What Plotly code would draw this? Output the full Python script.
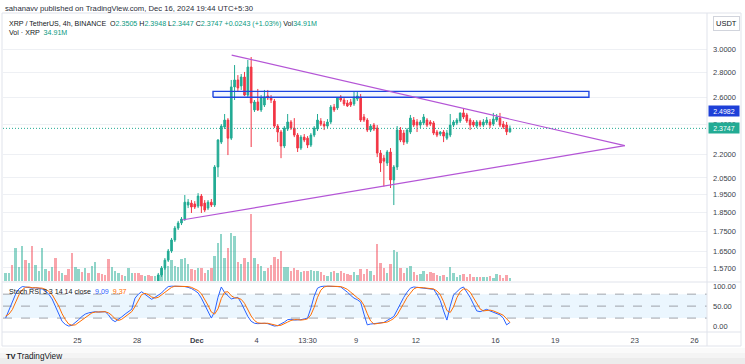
import math
import pandas as pd
import plotly.graph_objects as go

# ---------------- data (4h bars, IST) ----------------
bar_start = "2024-11-21 09:30"
n_bars = 153

opens = [1.12, 1.15, 1.18, 1.16, 1.26, 1.29, 1.40, 1.36, 1.39, 1.31,
         1.34, 1.36, 1.45, 1.47, 1.45, 1.48, 1.42, 1.40, 1.42, 1.41,
         1.38, 1.30, 1.34, 1.37, 1.35, 1.39, 1.38, 1.42, 1.46, 1.45,
         1.43, 1.42, 1.36, 1.39, 1.41, 1.42, 1.41, 1.42, 1.45, 1.46,
         1.45, 1.44, 1.43, 1.44, 1.43, 1.42,
         1.49, 1.538, 1.570, 1.607, 1.651, 1.706, 1.767, 1.794, 1.815, 1.892,
         1.903, 1.898, 1.886, 1.943, 1.903, 1.875, 1.908, 1.892, 2.118, 2.280,
         2.384, 2.434, 2.307, 2.685, 2.741, 2.693, 2.765, 2.621, 2.848, 2.508,
         2.568, 2.508, 2.545, 2.614, 2.599, 2.575, 2.391, 2.349, 2.254, 2.370,
         2.420, 2.377, 2.328, 2.240, 2.314, 2.307, 2.260, 2.328, 2.370, 2.427,
         2.405, 2.391, 2.420, 2.530, 2.523, 2.606, 2.583, 2.560, 2.568, 2.553,
         2.591, 2.606, 2.456, 2.434, 2.363, 2.398, 2.377, 2.207, 2.174, 2.143,
         2.214, 2.038, 2.118, 2.363, 2.342, 2.280, 2.349, 2.434, 2.420, 2.398,
         2.413, 2.434, 2.420, 2.413, 2.349, 2.335, 2.349, 2.307, 2.328, 2.398,
         2.413, 2.427, 2.486, 2.471, 2.434, 2.420, 2.391, 2.420, 2.398, 2.413,
         2.420, 2.405, 2.434, 2.448, 2.405, 2.398, 2.3505]
highs = [1.16, 1.19, 1.19, 1.28, 1.31, 1.42, 1.43, 1.41, 1.42, 1.35,
         1.37, 1.47, 1.49, 1.48, 1.49, 1.49, 1.44, 1.43, 1.43, 1.42,
         1.39, 1.35, 1.38, 1.38, 1.40, 1.40, 1.43, 1.47, 1.47, 1.46,
         1.44, 1.43, 1.40, 1.42, 1.43, 1.43, 1.43, 1.46, 1.47, 1.47,
         1.46, 1.45, 1.45, 1.45, 1.44, 1.49,
         1.547, 1.579, 1.617, 1.661, 1.716, 1.778, 1.805, 1.826, 1.949, 1.926,
         1.920, 1.914, 1.960, 1.955, 1.920, 1.920, 1.926, 2.130, 2.300, 2.405,
         2.478, 2.448, 2.741, 2.865, 2.781, 2.790, 2.807, 2.908, 2.934, 2.583,
         2.669, 2.621, 2.661, 2.661, 2.621, 2.591, 2.405, 2.363, 2.391, 2.478,
         2.434, 2.448, 2.342, 2.328, 2.335, 2.321, 2.342, 2.391, 2.478, 2.448,
         2.427, 2.441, 2.545, 2.553, 2.606, 2.621, 2.599, 2.583, 2.591, 2.645,
         2.645, 2.629, 2.478, 2.448, 2.405, 2.413, 2.398, 2.227, 2.194, 2.227,
         2.240, 2.130, 2.391, 2.384, 2.363, 2.377, 2.471, 2.456, 2.441, 2.434,
         2.478, 2.448, 2.434, 2.427, 2.363, 2.356, 2.363, 2.363, 2.478, 2.434,
         2.448, 2.486, 2.515, 2.486, 2.448, 2.434, 2.434, 2.434, 2.441, 2.456,
         2.441, 2.486, 2.478, 2.486, 2.427, 2.420, 2.3948]
lows = [1.11, 1.14, 1.15, 1.15, 1.24, 1.28, 1.34, 1.35, 1.29, 1.29,
        1.33, 1.35, 1.43, 1.43, 1.44, 1.40, 1.39, 1.39, 1.40, 1.37,
        1.28, 1.29, 1.33, 1.34, 1.34, 1.37, 1.37, 1.41, 1.44, 1.42,
        1.41, 1.35, 1.35, 1.38, 1.40, 1.40, 1.40, 1.41, 1.44, 1.44,
        1.43, 1.42, 1.42, 1.42, 1.41, 1.41,
        1.485, 1.529, 1.561, 1.598, 1.642, 1.696, 1.757, 1.783, 1.805, 1.875,
        1.848, 1.870, 1.875, 1.848, 1.853, 1.864, 1.881, 1.881, 2.056, 2.267,
        2.370, 2.194, 2.294, 2.583, 2.645, 2.661, 2.614, 2.606, 2.247, 2.493,
        2.500, 2.493, 2.530, 2.583, 2.560, 2.377, 2.280, 2.174, 2.240, 2.356,
        2.363, 2.314, 2.214, 2.227, 2.280, 2.240, 2.247, 2.314, 2.356, 2.391,
        2.363, 2.377, 2.405, 2.493, 2.508, 2.568, 2.538, 2.530, 2.530, 2.538,
        2.575, 2.420, 2.420, 2.349, 2.349, 2.356, 2.181, 2.087, 1.999, 2.124,
        1.990, 1.892, 2.099, 2.280, 2.260, 2.267, 2.335, 2.384, 2.349, 2.377,
        2.398, 2.384, 2.391, 2.328, 2.314, 2.321, 2.280, 2.294, 2.314, 2.384,
        2.398, 2.413, 2.441, 2.413, 2.363, 2.384, 2.377, 2.384, 2.384, 2.398,
        2.377, 2.391, 2.420, 2.384, 2.370, 2.328, 2.3447]
closes = [1.15, 1.18, 1.16, 1.26, 1.29, 1.40, 1.36, 1.39, 1.31, 1.34,
          1.36, 1.45, 1.47, 1.45, 1.48, 1.42, 1.40, 1.42, 1.41, 1.38,
          1.30, 1.34, 1.37, 1.35, 1.39, 1.38, 1.42, 1.46, 1.45, 1.43,
          1.42, 1.36, 1.39, 1.41, 1.42, 1.41, 1.42, 1.45, 1.46, 1.45,
          1.44, 1.43, 1.44, 1.43, 1.42, 1.49,
          1.538, 1.570, 1.607, 1.651, 1.706, 1.767, 1.794, 1.815, 1.908, 1.908,
          1.881, 1.881, 1.943, 1.886, 1.864, 1.908, 1.892, 2.118, 2.294, 2.391,
          2.434, 2.307, 2.685, 2.741, 2.677, 2.765, 2.621, 2.848, 2.560, 2.568,
          2.508, 2.599, 2.606, 2.599, 2.583, 2.391, 2.349, 2.254, 2.377, 2.420,
          2.377, 2.328, 2.240, 2.314, 2.294, 2.260, 2.328, 2.377, 2.434, 2.405,
          2.391, 2.420, 2.530, 2.508, 2.599, 2.583, 2.553, 2.538, 2.545, 2.606,
          2.614, 2.434, 2.434, 2.363, 2.391, 2.370, 2.207, 2.143, 2.155, 2.214,
          2.038, 2.118, 2.363, 2.294, 2.280, 2.363, 2.448, 2.398, 2.398, 2.420,
          2.456, 2.398, 2.405, 2.342, 2.328, 2.349, 2.321, 2.342, 2.398, 2.420,
          2.434, 2.486, 2.456, 2.427, 2.398, 2.398, 2.420, 2.398, 2.420, 2.434,
          2.398, 2.441, 2.456, 2.398, 2.384, 2.3504, 2.3747]

volumes_m = [92, 92, 184, 380, 161, 403, 242, 207, 403, 184,
             115, 380, 138, 115, 161, 265, 115, 92, 69, 138,
             322, 161, 138, 104, 150, 92, 173, 219, 92, 81,
             69, 253, 161, 115, 92, 69, 58, 150, 92, 92,
             92, 69, 58, 69, 58, 58,
             69, 138, 184, 173, 242, 173, 161, 253, 265, 196,
             138, 127, 150, 150, 92, 127, 150, 288, 437, 541,
             265, 380, 552, 518, 219, 196, 265, 219, 771,
             265, 196, 173, 115, 150, 184, 276, 253, 345, 161,
             161, 115, 150, 127, 104, 115, 115, 127, 115, 115,
             104, 69, 58, 104, 115, 92, 115,
             92,
             81, 69, 104, 69, 138, 81, 138, 115, 69, 426,
             207, 150, 92, 196, 357, 334, 150, 92, 150, 173,
             104, 69, 81, 115, 81, 104, 92, 69, 58, 69,
             46, 161, 92, 46, 69, 81, 46, 81, 46, 46,
             46, 46, 46, 58, 35, 81, 69, 35, 69, 34.91]

stoch_k = [20, 40, 62, 80, 93, 99, 98, 96, 95, 96,
           95, 93, 88, 80, 68, 50, 32, 12, 4, 0,
           2, 8, 16, 24, 30, 33, 35, 36, 35, 36,
           36, 28, 16, 11, 16, 23, 30, 35, 42, 70,
           80, 86, 80, 72, 67, 72, 78, 83, 92, 99,
           100, 100, 100, 100, 99, 97, 94, 89, 83, 70,
           52, 34, 20, 36, 72, 98, 84, 76, 68, 70,
           72, 58, 40, 24, 12, 7, 6, 7, 7, 6,
           3, 0, 1, 5, 10, 16, 17, 15, 15, 16,
           18, 20, 45, 75, 95, 99, 100, 100, 100, 99,
           99,
           98, 92, 85, 77, 70, 66, 60, 30, 3, 5,
           6, 7, 7, 9, 14, 19, 24, 40, 58, 72,
           85, 95, 98, 97, 95, 95, 94, 93, 92, 80,
           64, 38, 15, 50, 78, 86, 94, 98, 85, 72,
           55, 38, 36, 40, 42, 38, 34, 32, 28, 20,
           3, 9.09]
stoch_d = [25, 30, 41, 61, 78, 91, 97, 98, 96, 96,
           95, 95, 92, 87, 79, 66, 50, 31, 16, 5,
           2, 3, 9, 16, 23, 29, 33, 35, 35, 36,
           36, 33, 27, 18, 14, 17, 23, 29, 36, 49,
           64, 79, 82, 79, 73, 70, 72, 78, 84, 91,
           97, 100, 100, 100, 100, 99, 97, 93, 89, 81,
           68, 52, 35, 30, 43, 69, 85, 86, 76, 71,
           70, 67, 57, 41, 25, 14, 8, 7, 7, 7,
           5, 3, 1, 2, 5, 10, 14, 16, 16, 15,
           16, 18, 28, 47, 72, 90, 98, 100, 100, 100,
           100,
           99, 96, 92, 85, 77, 71, 65, 52, 31, 13,
           5, 6, 7, 8, 10, 14, 19, 28, 41, 57,
           72, 84, 93, 97, 97, 96, 95, 94, 93, 88,
           79, 61, 39, 34, 48, 71, 86, 93, 92, 85,
           71, 55, 43, 38, 39, 40, 38, 35, 31, 27,
           17, 9.37]

# drawings
upper_line_t = ["2024-12-02 18:00", "2024-12-22 12:00"]
upper_line_p = [2.951, 2.256]
lower_line_t = ["2024-11-30 06:00", "2024-12-22 12:00"]
lower_line_p = [1.810, 2.256]
rect_t = ["2024-12-01 19:30", "2024-12-20 16:45"]
rect_p = [2.604, 2.650]
marker_level = 2.4982

# axis ticks
price_ticks = [1.57, 1.65, 1.75, 1.85, 1.95, 2.05, 2.2, 2.4, 2.6, 2.8, 3.0]
stoch_ticks = [0, 50, 100]
time_tickvals = ["2024-11-25", "2024-11-28", "2024-12-01", "2024-12-04", "2024-12-06 13:30",
                 "2024-12-09", "2024-12-12", "2024-12-16", "2024-12-19", "2024-12-23", "2024-12-26"]
time_ticktext = ["25", "28", "<b>Dec</b>", "4", "13:30", "9", "12", "16", "19", "23", "26"]

# ---------------- figure ----------------
W, H = 745, 364
def px(x): return x / W
def py(y): return 1 - y / H

times = pd.date_range(bar_start, periods=n_bars, freq="4h")
x_range = ["2024-11-21 06:18", "2024-12-26 15:06"]
UP, DN = "#22ab94", "#f23645"
UP_V, DN_V = "rgba(34,171,148,0.5)", "rgba(242,54,69,0.45)"
TXT = "#131722"
AX = "#3a3e4a"
FONT = "Liberation Sans, Arial, sans-serif"

vol_colors = [UP_V if c >= o else DN_V for o, c in zip(opens, closes)]

fig = go.Figure()
fig.add_trace(go.Bar(x=times, y=volumes_m, marker=dict(color=vol_colors, line=dict(width=0)),
                     width=4 * 3600 * 1000 * 0.72, xaxis="x", yaxis="y",
                     hoverinfo="skip", showlegend=False))
fig.add_trace(go.Candlestick(x=times, open=opens, high=highs, low=lows, close=closes,
                             xaxis="x", yaxis="y2", whiskerwidth=0,
                             increasing=dict(line=dict(color=UP, width=1), fillcolor=UP),
                             decreasing=dict(line=dict(color=DN, width=1), fillcolor=DN),
                             hoverinfo="skip", showlegend=False))
# rectangle
fig.add_trace(go.Scatter(x=[rect_t[0], rect_t[1], rect_t[1], rect_t[0], rect_t[0]],
                         y=[rect_p[0], rect_p[0], rect_p[1], rect_p[1], rect_p[0]],
                         mode="lines", fill="toself", fillcolor="rgba(41,98,255,0.06)",
                         line=dict(color="#1f46e0", width=1.4), xaxis="x", yaxis="y2",
                         hoverinfo="skip", showlegend=False))
# triangle
for tt, pp in [(upper_line_t, upper_line_p), (lower_line_t, lower_line_p)]:
    fig.add_trace(go.Scatter(x=tt, y=pp, mode="lines", line=dict(color="#b455d6", width=1.2),
                             xaxis="x", yaxis="y2", hoverinfo="skip", showlegend=False))
# current price line
last = closes[-1]
fig.add_trace(go.Scatter(x=x_range, y=[last, last], mode="lines",
                         line=dict(color=UP, width=1, dash="1px,2px"), xaxis="x", yaxis="y2",
                         hoverinfo="skip", showlegend=False))
# stoch rsi
fig.add_trace(go.Scatter(x=times, y=stoch_k, mode="lines", line=dict(color="#2962ff", width=1),
                         xaxis="x", yaxis="y3", hoverinfo="skip", showlegend=False))
fig.add_trace(go.Scatter(x=times, y=stoch_d, mode="lines", line=dict(color="#ff6d00", width=1),
                         xaxis="x", yaxis="y3", hoverinfo="skip", showlegend=False))

price_dom = [py(281), py(14)]
stoch_dom = [py(331), py(282.5)]

fig.update_layout(
    width=W, height=H, autosize=False,
    margin=dict(l=0, r=0, t=0, b=0, pad=0),
    paper_bgcolor="white", plot_bgcolor="rgba(0,0,0,0)",
    font=dict(family=FONT, size=7.5, color=TXT),
    showlegend=False, bargap=0,
    xaxis=dict(domain=[px(3), px(707)], range=x_range, type="date", anchor="y3",
               showgrid=False, zeroline=False, showline=False, ticks="",
               tickvals=time_tickvals, ticktext=time_ticktext,
               tickfont=dict(size=7.5, color=AX), ticklabelstandoff=3,
               rangeslider=dict(visible=False), fixedrange=True),
    yaxis=dict(domain=price_dom, range=[0, 3070], visible=False, fixedrange=True),
    yaxis2=dict(overlaying="y", anchor="x", side="right", type="log",
                range=[math.log10(1.5106), math.log10(3.3329)],
                tickvals=price_ticks, ticktext=[f"{v:.4f}" for v in price_ticks],
                showgrid=True, gridcolor="#eef0f4", gridwidth=1, zeroline=False,
                showline=False, ticks="", tickfont=dict(size=7.5, color=AX),
                ticklabelstandoff=5, automargin=False, fixedrange=True),
    yaxis3=dict(domain=stoch_dom, anchor="x", side="right", range=[-12.4, 109.2],
                tickvals=stoch_ticks, ticktext=[f"{v:.2f}" for v in stoch_ticks],
                showgrid=False, zeroline=False, showline=False, ticks="",
                tickfont=dict(size=7.5, color=AX), ticklabelstandoff=5,
                automargin=False, fixedrange=True),
)

shapes = []
LINE = "#e0e3eb"
# stoch band and levels
shapes.append(dict(type="rect", xref="paper", yref="y3", x0=px(3), x1=px(707), y0=20, y1=80,
                   fillcolor="rgba(33,150,243,0.09)", line=dict(width=0), layer="below"))
for lv in [20, 50, 80]:
    shapes.append(dict(type="line", xref="paper", yref="y3", x0=px(3), x1=px(707), y0=lv, y1=lv,
                       line=dict(color="#8a8d96", width=0.8, dash="dash"), layer="below"))
# frame and separators
shapes.append(dict(type="rect", xref="paper", yref="paper", x0=px(2), x1=px(741), y0=py(346), y1=py(13),
                   line=dict(color=LINE, width=1), fillcolor="rgba(0,0,0,0)", layer="above"))
shapes.append(dict(type="line", xref="paper", yref="paper", x0=px(707), x1=px(707), y0=py(346), y1=py(13),
                   line=dict(color=LINE, width=1), layer="above"))
for yy in [282, 332]:
    shapes.append(dict(type="line", xref="paper", yref="paper", x0=px(2), x1=px(741), y0=py(yy), y1=py(yy),
                       line=dict(color=LINE, width=1), layer="above"))
# bottom shading
for y0, y1, col in [(348, 353, "#fafafa"), (353, 358, "#f4f4f4"), (358, 364, "#ececec")]:
    shapes.append(dict(type="rect", xref="paper", yref="paper", x0=0, x1=1, y0=py(y1), y1=py(y0),
                       fillcolor=col, line=dict(width=0), layer="below"))
fig.update_layout(shapes=shapes)

G = "#089981"
def c(v, col=G):
    return f'<span style="color:{col}">{v}</span>'

chg = closes[-1] - closes[-2]
pct = chg / closes[-2] * 100
line2 = ("XRP / TetherUS, 4h, BINANCE  O" + c(f"{opens[-1]:.4f}") + " H" + c(f"{highs[-1]:.4f}") +
         " L" + c(f"{lows[-1]:.4f}") + " C" + c(f"{closes[-1]:.4f}") + " " +
         c(f"{chg:+.4f} ({pct:+.2f}%)") + " Vol" + c(f"{volumes_m[-1]:.2f}M"))
line3 = "Vol · XRP  " + c(f"{volumes_m[-1]:.2f}M")
stoch_txt = ("Stoch RSI 3 3 14 14 close  " + c(f"{stoch_k[-1]:.2f}", "#2962ff") + "  " +
             c(f"{stoch_d[-1]:.2f}", "#ff6d00"))

ann = []
def text(x, y, t, size=7, color=TXT, **kw):
    d = dict(xref="paper", yref="paper", x=px(x), y=py(y), text=t, showarrow=False,
             xanchor="left", yanchor="middle", font=dict(size=size, color=color, family=FONT))
    d.update(kw)
    ann.append(d)

text(3, 8, "sahanavv published on TradingView.com, Dec 16, 2024 19:44 UTC+5:30", size=7.7, color="#2a2e39")
text(7, 24, line2, size=7.1)
text(7, 33, line3, size=7.1)
text(7, 292, stoch_txt, size=7.1)
text(4, 356, "<b>TV</b>", size=7.5, color="#131722")
text(15, 356, "TradingView", size=8.2, color="#131722")
ann.append(dict(xref="paper", yref="paper", x=px(726), y=py(23), text="USDT", showarrow=False,
                xanchor="center", yanchor="middle", font=dict(size=7.5, color=TXT, family=FONT),
                bordercolor="#d1d4dc", borderwidth=1, borderpad=2, bgcolor="white"))
for val, col in [(marker_level, "#1e40d8"), (closes[-1], UP)]:
    ann.append(dict(xref="paper", yref="y2", x=px(707.5), y=math.log10(val), text=f"{val:.4f}",
                    showarrow=False, xanchor="left", yanchor="middle", width=27, align="center",
                    font=dict(size=7, color="white", family=FONT), bgcolor=col, borderpad=1.5))
fig.update_layout(annotations=ann)

fig.write_html("out.html", config={"displayModeBar": False, "staticPlot": True},
               post_script="document.body.style.margin='0';document.body.style.overflow='hidden';")
